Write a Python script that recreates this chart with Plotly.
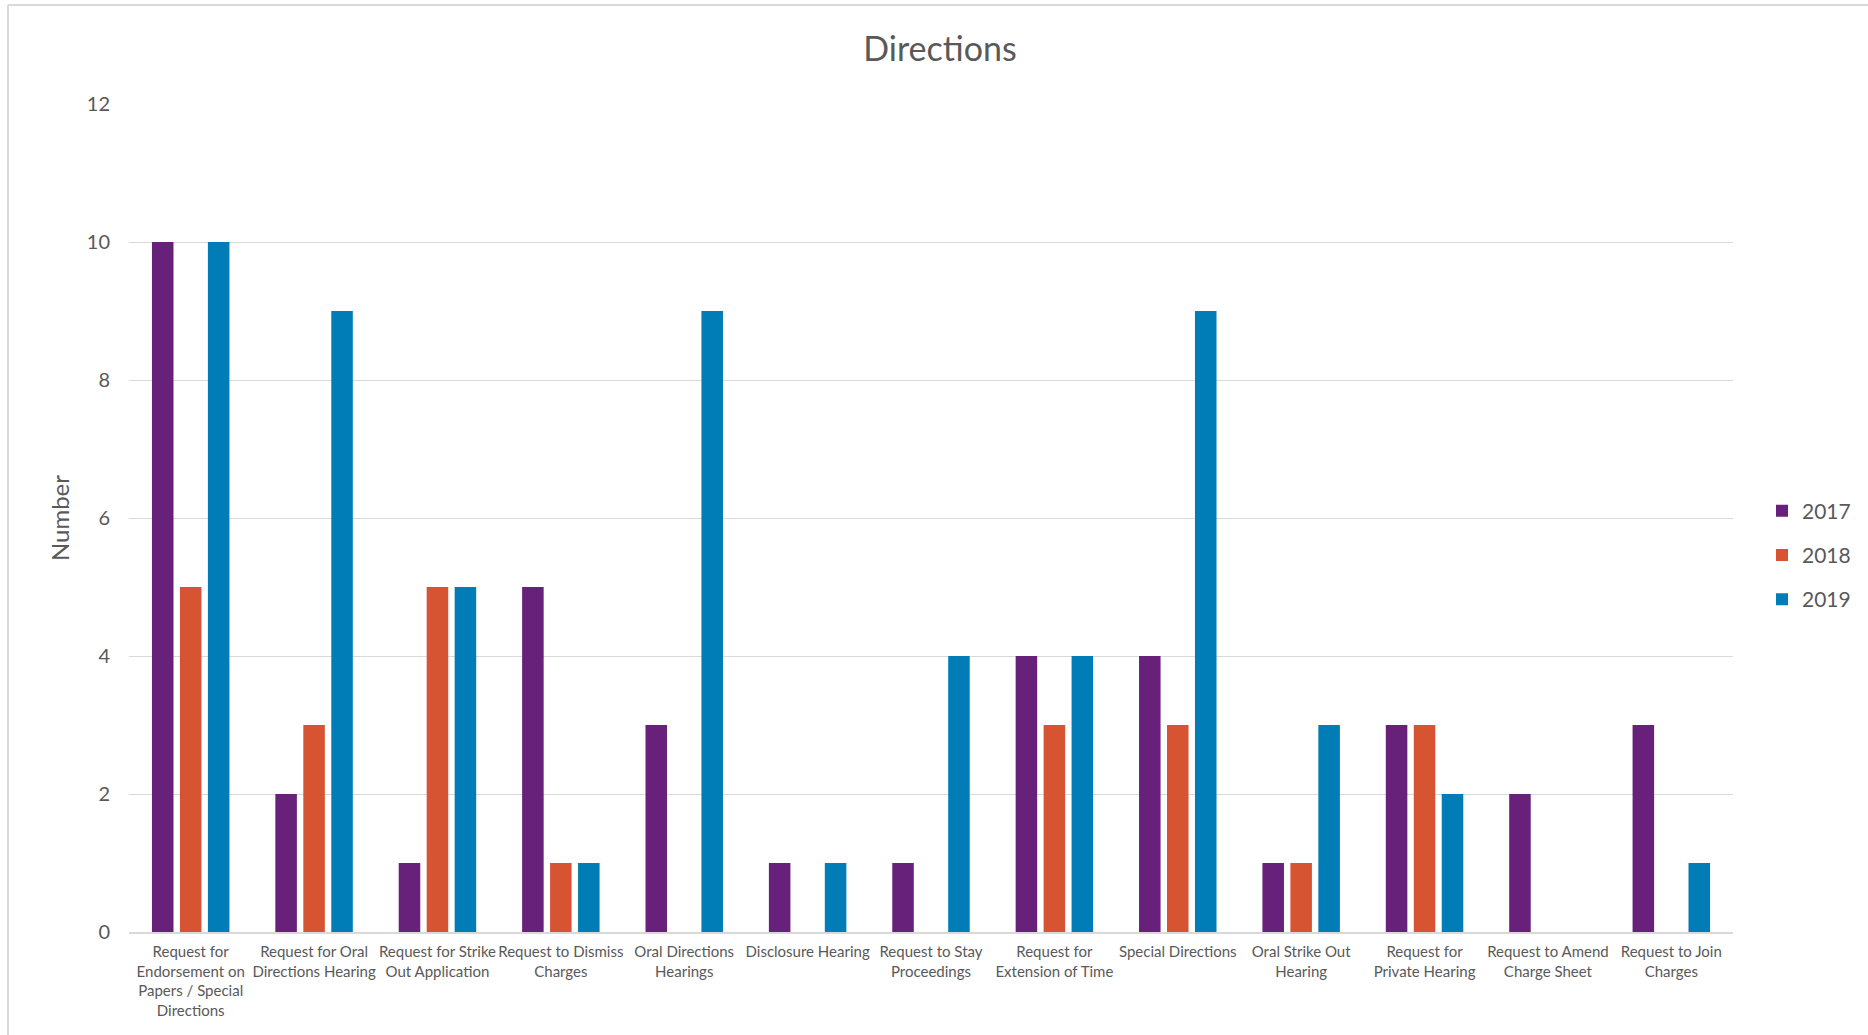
import plotly.graph_objects as go

categories = [
    "Request for<br>Endorsement on<br>Papers / Special<br>Directions",
    "Request for Oral<br>Directions Hearing",
    "Request for Strike<br>Out Application",
    "Request to Dismiss<br>Charges",
    "Oral Directions<br>Hearings",
    "Disclosure Hearing",
    "Request to Stay<br>Proceedings",
    "Request for<br>Extension of Time",
    "Special Directions",
    "Oral Strike Out<br>Hearing",
    "Request for<br>Private Hearing",
    "Request to Amend<br>Charge Sheet",
    "Request to Join<br>Charges",
]
values_2017 = [10, 2, 1, 5, 3, 1, 1, 4, 4, 1, 3, 2, 3]
values_2018 = [5, 3, 5, 1, 0, 0, 0, 3, 3, 1, 3, 0, 0]
values_2019 = [10, 9, 5, 1, 9, 1, 4, 4, 9, 3, 2, 0, 1]
series_names = ["2017", "2018", "2019"]
y_ticks = [0, 2, 4, 6, 8, 10, 12]

colors = ["#68217A", "#D75432", "#007CB6"]

W, H = 1868, 1035
ML, MR, MT, MB = 129, 135, 104, 103

fig = go.Figure()
for name, vals, col in zip(series_names, [values_2017, values_2018, values_2019], colors):
    fig.add_trace(go.Bar(
        x=categories, y=vals, name=name, marker=dict(color=col, line=dict(width=0)),
        legendgroup=name,
    ))

pw = W - ML - MR
ph = H - MT - MB
font = "Lato, 'Open Sans', sans-serif"

fig.update_layout(
    width=W, height=H,
    margin=dict(l=ML, r=MR, t=MT, b=MB, autoexpand=False),
    paper_bgcolor="white", plot_bgcolor="white",
    barmode="group", bargap=0.32, bargroupgap=0.23,
    title=dict(text="Directions", x=940 / W, xref="container", xanchor="center",
               y=1 - 49 / H, yref="container", yanchor="middle",
               font=dict(family=font, size=34, color="#595959")),
    font=dict(family=font, color="#595959"),
    legend=dict(x=(1762 - ML) / pw, xanchor="left", y=(H - MB - 555) / ph, yanchor="middle",
                font=dict(family=font, size=21, color="#595959"),
                tracegroupgap=14, itemwidth=30, bgcolor="rgba(0,0,0,0)"),
    showlegend=True,
)
fig.update_xaxes(
    tickfont=dict(family=font, size=15, color="#595959"),
    showline=True, linecolor="#D9D9D9", linewidth=2,
    showgrid=False, ticks="", tickangle=0, ticklabelstandoff=5,
)
fig.update_yaxes(
    range=[0, 12], tickvals=y_ticks,
    tickfont=dict(family=font, size=20, color="#595959"),
    showgrid=True, gridcolor="#D9D9D9", gridwidth=1,
    zeroline=False, showline=False, ticks="",
    ticklabelstandoff=18,
    title=dict(text="Number", font=dict(family=font, size=24, color="#595959"), standoff=10),
)

# outer chart border (top and left edges visible)
top_y = (H - MB - 5) / ph
left_x = (8 - ML) / pw
fig.add_shape(type="line", xref="paper", yref="paper", x0=left_x, x1=(W - ML + 10) / pw,
              y0=top_y, y1=top_y, line=dict(color="#D9D9D9", width=2))
fig.add_shape(type="line", xref="paper", yref="paper", x0=left_x, x1=left_x,
              y0=top_y, y1=-(MB + 10) / ph, line=dict(color="#D9D9D9", width=2))

fig.write_html("out.html")
